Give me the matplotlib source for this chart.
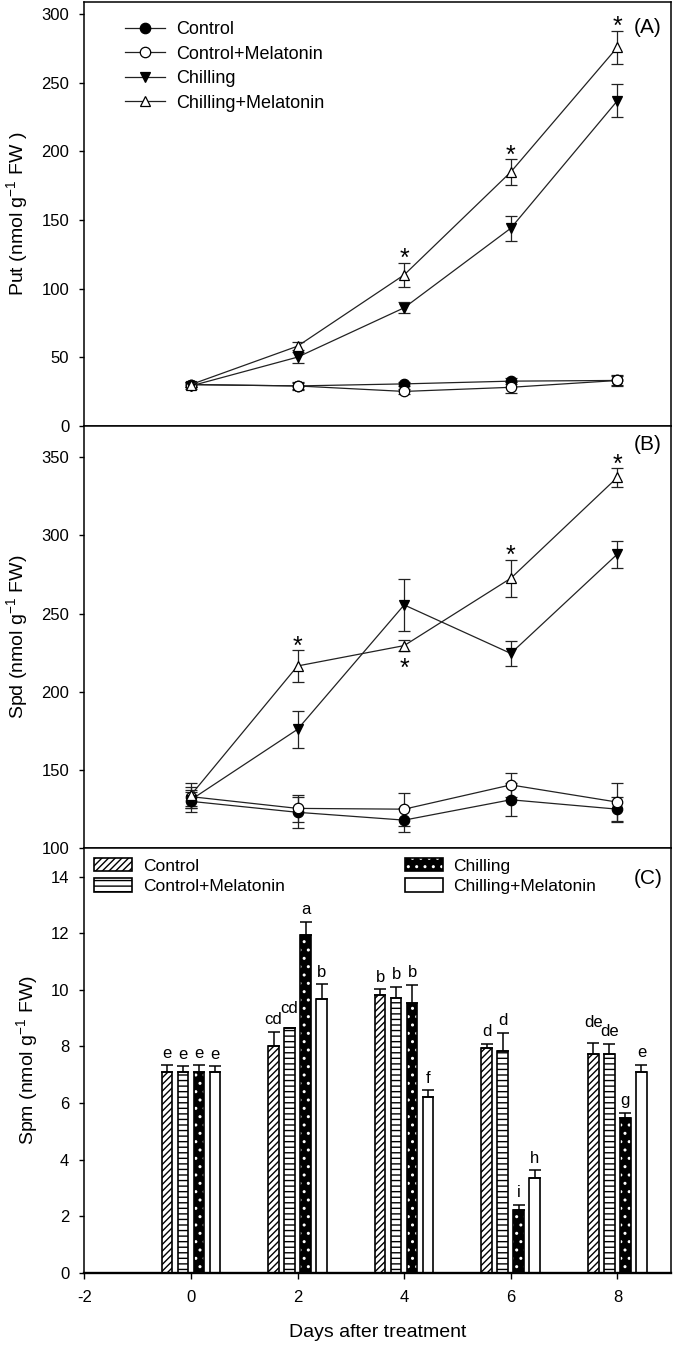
import matplotlib
matplotlib.use('Agg')
import matplotlib.pyplot as plt
from matplotlib.patches import Patch
from matplotlib.legend_handler import HandlerTuple
import numpy as np

plt.rcParams['font.family'] = 'Liberation Sans'
plt.rcParams['mathtext.fontset'] = 'custom'
plt.rcParams['mathtext.rm'] = 'Liberation Sans'
plt.rcParams['mathtext.default'] = 'regular'
plt.rcParams['axes.unicode_minus'] = False
plt.rcParams['hatch.linewidth'] = 1.0

days = np.array([0, 2, 4, 6, 8])
groups = ['Control', 'Control+Melatonin', 'Chilling', 'Chilling+Melatonin']

# (A) Put
put_ctrl = [30, 29, 30.5, 32.5, 33]
put_ctrl_err = [2, 2, 1.5, 2, 3]
put_ctrl_mel = [30, 29, 25, 28, 33]
put_ctrl_mel_err = [2, 3, 2, 4, 4]
put_chill = [29, 50, 86, 144, 237]
put_chill_err = [2, 4, 4, 9, 12]
put_chill_mel = [30, 58, 110, 185, 276]
put_chill_mel_err = [2, 3, 9, 9.5, 12]
put_star_days = [4, 6, 8]

# (B) Spd
spd_ctrl = [130, 123, 118, 131, 125]
spd_ctrl_err = [7, 10, 7.5, 10.5, 8]
spd_ctrl_mel = [133, 125.5, 125, 140.5, 129.5]
spd_ctrl_mel_err = [6, 8.5, 10.5, 7.6, 12.3]
spd_chill = [131, 176, 255.5, 224.5, 288]
spd_chill_err = [5, 12, 16.5, 8, 8.6]
spd_chill_mel = [134, 216.5, 229.5, 272.5, 337]
spd_chill_mel_err = [8, 10, 3.5, 12, 6]
spd_star_days = [2, 4, 6, 8]
spd_star_below = [False, True, False, False]

# (C) Spm
spm_ctrl = [7.1, 8.0, 9.82, 7.93, 7.72]
spm_ctrl_err = [0.23, 0.52, 0.2, 0.15, 0.41]
spm_ctrl_mel = [7.1, 8.65, 9.72, 7.82, 7.72]
spm_ctrl_mel_err = [0.2, 0.0, 0.38, 0.65, 0.36]
spm_chill = [7.1, 11.95, 9.53, 2.22, 5.47]
spm_chill_err = [0.23, 0.45, 0.64, 0.18, 0.19]
spm_chill_mel = [7.1, 9.69, 6.22, 3.34, 7.1]
spm_chill_mel_err = [0.2, 0.5, 0.22, 0.28, 0.25]
spm_ctrl_let = ['e', 'cd', 'b', 'd', 'de']
spm_ctrl_mel_let = ['e', 'cd', 'b', 'd', 'de']
spm_chill_let = ['e', 'a', 'b', 'i', 'g']
spm_chill_mel_let = ['e', 'b', 'f', 'h', 'e']

fig = plt.figure(figsize=(6.75, 13.47), dpi=100)
L = 84.3/675
W = 586.4/675
axA = fig.add_axes([L, 0.68396, W, 0.31456])
axB = fig.add_axes([L, 0.37023, W, 0.31373])
axC = fig.add_axes([L, 0.05516, W, 0.31507])

for ax in [axA, axB, axC]:
    ax.set_xlim(-2, 9)
    for s in ax.spines.values():
        s.set_linewidth(1.1)
    ax.tick_params(axis='y', direction='out', length=3.8, width=1, pad=7, labelsize=12, right=False)
    ax.tick_params(axis='x', direction='out', length=4.3, width=1, pad=8, labelsize=12, top=False)
for ax in [axA, axB]:
    ax.tick_params(axis='x', bottom=False, labelbottom=False)

mstyles = [dict(marker='o', mfc='black'), dict(marker='o', mfc='white'),
           dict(marker='v', mfc='black'), dict(marker='^', mfc='white')]


def linepanel(ax, series, errs):
    handles = []
    for i in range(4):
        ax.errorbar(days, series[i], yerr=errs[i], fmt='none', ecolor='#222222',
                    elinewidth=0.9, capsize=4.6, capthick=0.9, zorder=2)
        h, = ax.plot(days, series[i], '-', color='#222222', lw=0.9, ms=7.5, mec='black',
                     mew=0.9, zorder=3, label=groups[i], **mstyles[i])
        handles.append(h)
    return handles


def stars(ax, sdays, vals, errs, below=None):
    for k, d in enumerate(sdays):
        i = list(days).index(d)
        if below is not None and below[k]:
            ax.annotate('*', (d, vals[i]-errs[i]), xytext=(0, -18), textcoords='offset points',
                        ha='center', va='baseline', fontsize=18)
        else:
            ax.annotate('*', (d, vals[i]+errs[i]), xytext=(0, -2.5), textcoords='offset points',
                        ha='center', va='baseline', fontsize=18)


# panel A
hA = linepanel(axA, [put_ctrl, put_ctrl_mel, put_chill, put_chill_mel],
               [put_ctrl_err, put_ctrl_mel_err, put_chill_err, put_chill_mel_err])
stars(axA, put_star_days, put_chill_mel, put_chill_mel_err)
axA.set_ylim(0, 309)
axA.set_yticks(np.arange(0, 301, 50))
axA.set_ylabel('Put (nmol g$^{-1}$ FW )', fontsize=14, labelpad=8)
axA.legend(handles=hA, loc='upper left', bbox_to_anchor=(0.069, 0.955), frameon=False,
           fontsize=13, handlelength=2.25, handletextpad=0.6, labelspacing=0.42,
           borderpad=0, borderaxespad=0, numpoints=1)
axA.text(0.961, 0.939, '(A)', transform=axA.transAxes, ha='center', va='center', fontsize=15)

# panel B
linepanel(axB, [spd_ctrl, spd_ctrl_mel, spd_chill, spd_chill_mel],
          [spd_ctrl_err, spd_ctrl_mel_err, spd_chill_err, spd_chill_mel_err])
stars(axB, spd_star_days, spd_chill_mel, spd_chill_mel_err, spd_star_below)
axB.set_ylim(100, 370)
axB.set_yticks(np.arange(100, 351, 50))
axB.set_ylabel('Spd (nmol g$^{-1}$ FW)', fontsize=14, labelpad=8)
axB.text(0.961, 0.955, '(B)', transform=axB.transAxes, ha='center', va='center', fontsize=15)

# panel C
offs = [-0.45, -0.15, 0.15, 0.45]
bw = 0.2
vals = [spm_ctrl, spm_ctrl_mel, spm_chill, spm_chill_mel]
errs = [spm_ctrl_err, spm_ctrl_mel_err, spm_chill_err, spm_chill_mel_err]
lets = [spm_ctrl_let, spm_ctrl_mel_let, spm_chill_let, spm_chill_mel_let]
hC = []
for i in range(4):
    x = days + offs[i]
    if i == 2:
        axC.bar(x, vals[i], bw, color='black', edgecolor='white', hatch='..', linewidth=0, zorder=2)
        axC.bar(x, vals[i], bw, fill=False, edgecolor='black', linewidth=1.2, zorder=3)
        hC.append((Patch(facecolor='black', edgecolor='white', hatch='..', linewidth=0),
                   Patch(fill=False, edgecolor='black', linewidth=1.2)))
    else:
        hatch = ['/////', '---', None, None][i]
        axC.bar(x, vals[i], bw, color='white', edgecolor='black', hatch=hatch, linewidth=1.2, zorder=2)
        hC.append(Patch(facecolor='white', edgecolor='black', hatch=hatch, linewidth=1.2))
    e = np.array(errs[i])
    axC.errorbar(x, vals[i], yerr=[np.zeros_like(e), e], fmt='none', ecolor='black',
                 elinewidth=1.1, capsize=4.6, capthick=1.1, zorder=4)
    # when two neighbouring letters are identical, the one standing higher is lifted a bit more
    for j in range(len(days)):
        lift = 5.5
        top0 = vals[0][j] + errs[0][j]
        top1 = vals[1][j] + errs[1][j]
        if lets[0][j] == lets[1][j] and len(lets[1][j]) > 1:
            if (i == 1 and top1 >= top0) or (i == 0 and top0 > top1):
                lift = 11
        axC.annotate(lets[i][j], (x[j], vals[i][j]+errs[i][j]), xytext=(0, lift),
                     textcoords='offset points', ha='center', va='baseline', fontsize=12)

axC.set_ylim(0, 15)
axC.set_yticks(np.arange(0, 15, 2))
axC.set_xticks(np.arange(-2, 9, 2))
axC.spines['bottom'].set_linewidth(1.7)
axC.set_ylabel('Spm (nmol g$^{-1}$ FW)', fontsize=14, labelpad=8)
axC.set_xlabel('Days after treatment', fontsize=14, labelpad=14)
axC.legend(handles=hC, labels=groups, ncol=2, loc='upper left', bbox_to_anchor=(0.017, 0.978),
           frameon=False, fontsize=12.5, handlelength=2.2, handleheight=0.84, handletextpad=0.6,
           columnspacing=6.9, labelspacing=0.25, borderpad=0, borderaxespad=0,
           handler_map={tuple: HandlerTuple(ndivide=1)})
axC.text(0.961, 0.929, '(C)', transform=axC.transAxes, ha='center', va='center', fontsize=15)

fig.savefig('out.png', dpi=100)
